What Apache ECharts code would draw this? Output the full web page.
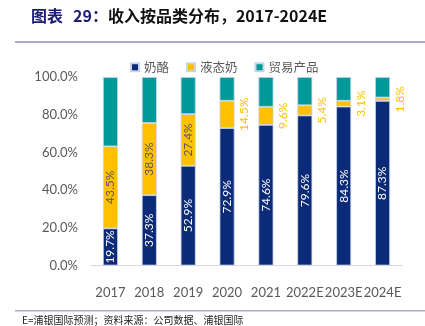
<!DOCTYPE html>
<html><head><meta charset="utf-8">
<script src="https://cdn.jsdelivr.net/npm/echarts@6/dist/echarts.min.js"></script>
<style>html,body{margin:0;padding:0;background:#fff}#c{width:425px;height:326px}</style>
</head><body><div id="c"></div>
<script>
const categories = ['2017','2018','2019','2020','2021','2022E','2023E','2024E'];
const cheese = [19.7, 37.3, 52.9, 72.9, 74.6, 79.6, 84.3, 87.3];
const liquidMilk = [43.5, 38.3, 27.4, 14.5, 9.6, 5.4, 3.1, 1.8];
const trade = [36.8, 24.4, 19.7, 12.6, 15.8, 15.0, 12.6, 10.9];
const yTicks = [0, 20, 40, 60, 80, 100];

const NAVY = '#0B2A78', YEL = '#FFC000', TEAL = '#009999';
const labelFont = 'Lato, "Open Sans", sans-serif';
const cjk = '"Noto Sans CJK SC", sans-serif';
const chart = echarts.init(document.getElementById('c'));
const border = {borderColor: '#c9d6ea', borderWidth: 0.8};

chart.setOption({
  animation: false,
  textStyle: {fontFamily: labelFont},
  title: {
    text: '{a|图表}{s| }{a|29：}{b|收入按品类分布，2017-2024E}',
    left: 26, top: 3,
    textStyle: {rich: {
      a: {fontSize: 16, fontWeight: 'bold', color: '#1C1C73', fontFamily: cjk},
      s: {fontSize: 16, width: 10},
      b: {fontSize: 16, fontWeight: 'bold', color: '#111', fontFamily: cjk}
    }}
  },
  graphic: [
    {type: 'rect', shape: {x: 15, y: 41, width: 410, height: 2}, style: {fill: '#A9A9CC'}},
    {type: 'rect', shape: {x: 15, y: 310, width: 410, height: 1.5}, style: {fill: '#A9A9CC'}},
    {type: 'text', left: 22, top: 315, style: {text: 'E=浦银国际预测；资料来源：公司数据、浦银国际', fontSize: 10, fill: '#222', fontFamily: cjk}}
  ],
  legend: {
    top: 56, left: 125,
    itemWidth: 8, itemHeight: 8, itemGap: 17,
    icon: 'rect',
    textStyle: {color: '#595959', fontSize: 12.5, fontFamily: cjk},
    data: ['奶酪', '液态奶', '贸易产品']
  },
  grid: {left: 91, right: 23, top: 77, bottom: 60.5},
  xAxis: {
    type: 'category', data: categories,
    axisLine: {lineStyle: {color: '#D9D9D9', width: 1}},
    axisTick: {show: false},
    axisLabel: {color: '#595959', fontSize: 13, margin: 21, interval: 0, fontFamily: labelFont}
  },
  yAxis: {
    type: 'value', min: yTicks[0], max: yTicks[yTicks.length - 1], interval: 20,
    axisLine: {show: false}, axisTick: {show: false}, splitLine: {show: false},
    axisLabel: {color: '#595959', fontSize: 13, margin: 13, fontFamily: labelFont,
      formatter: v => v.toFixed(1) + '%'}
  },
  series: [
    {name: '奶酪', type: 'bar', stack: 's', barWidth: 15, data: cheese,
      itemStyle: Object.assign({color: NAVY}, border),
      label: {show: true, position: 'inside', rotate: 90, color: '#fff', fontSize: 12, fontFamily: labelFont,
        formatter: p => p.value.toFixed(1) + '%'}},
    {name: '液态奶', type: 'bar', stack: 's', barWidth: 15,
      data: liquidMilk.map((v, i) => {
        if (i < 3) return {value: v, label: {show: true, position: 'inside', rotate: 90, color: '#595959'}};
        return {value: v, label: {show: true, position: 'right', distance: 4, rotate: 90, align: 'center', verticalAlign: 'top', color: YEL}};
      }),
      itemStyle: Object.assign({color: YEL}, border),
      label: {show: true, fontSize: 12, fontFamily: labelFont, formatter: p => p.value.toFixed(1) + '%'}},
    {name: '贸易产品', type: 'bar', stack: 's', barWidth: 15, data: trade,
      itemStyle: Object.assign({color: TEAL}, border)}
  ]
});
</script></body></html>
